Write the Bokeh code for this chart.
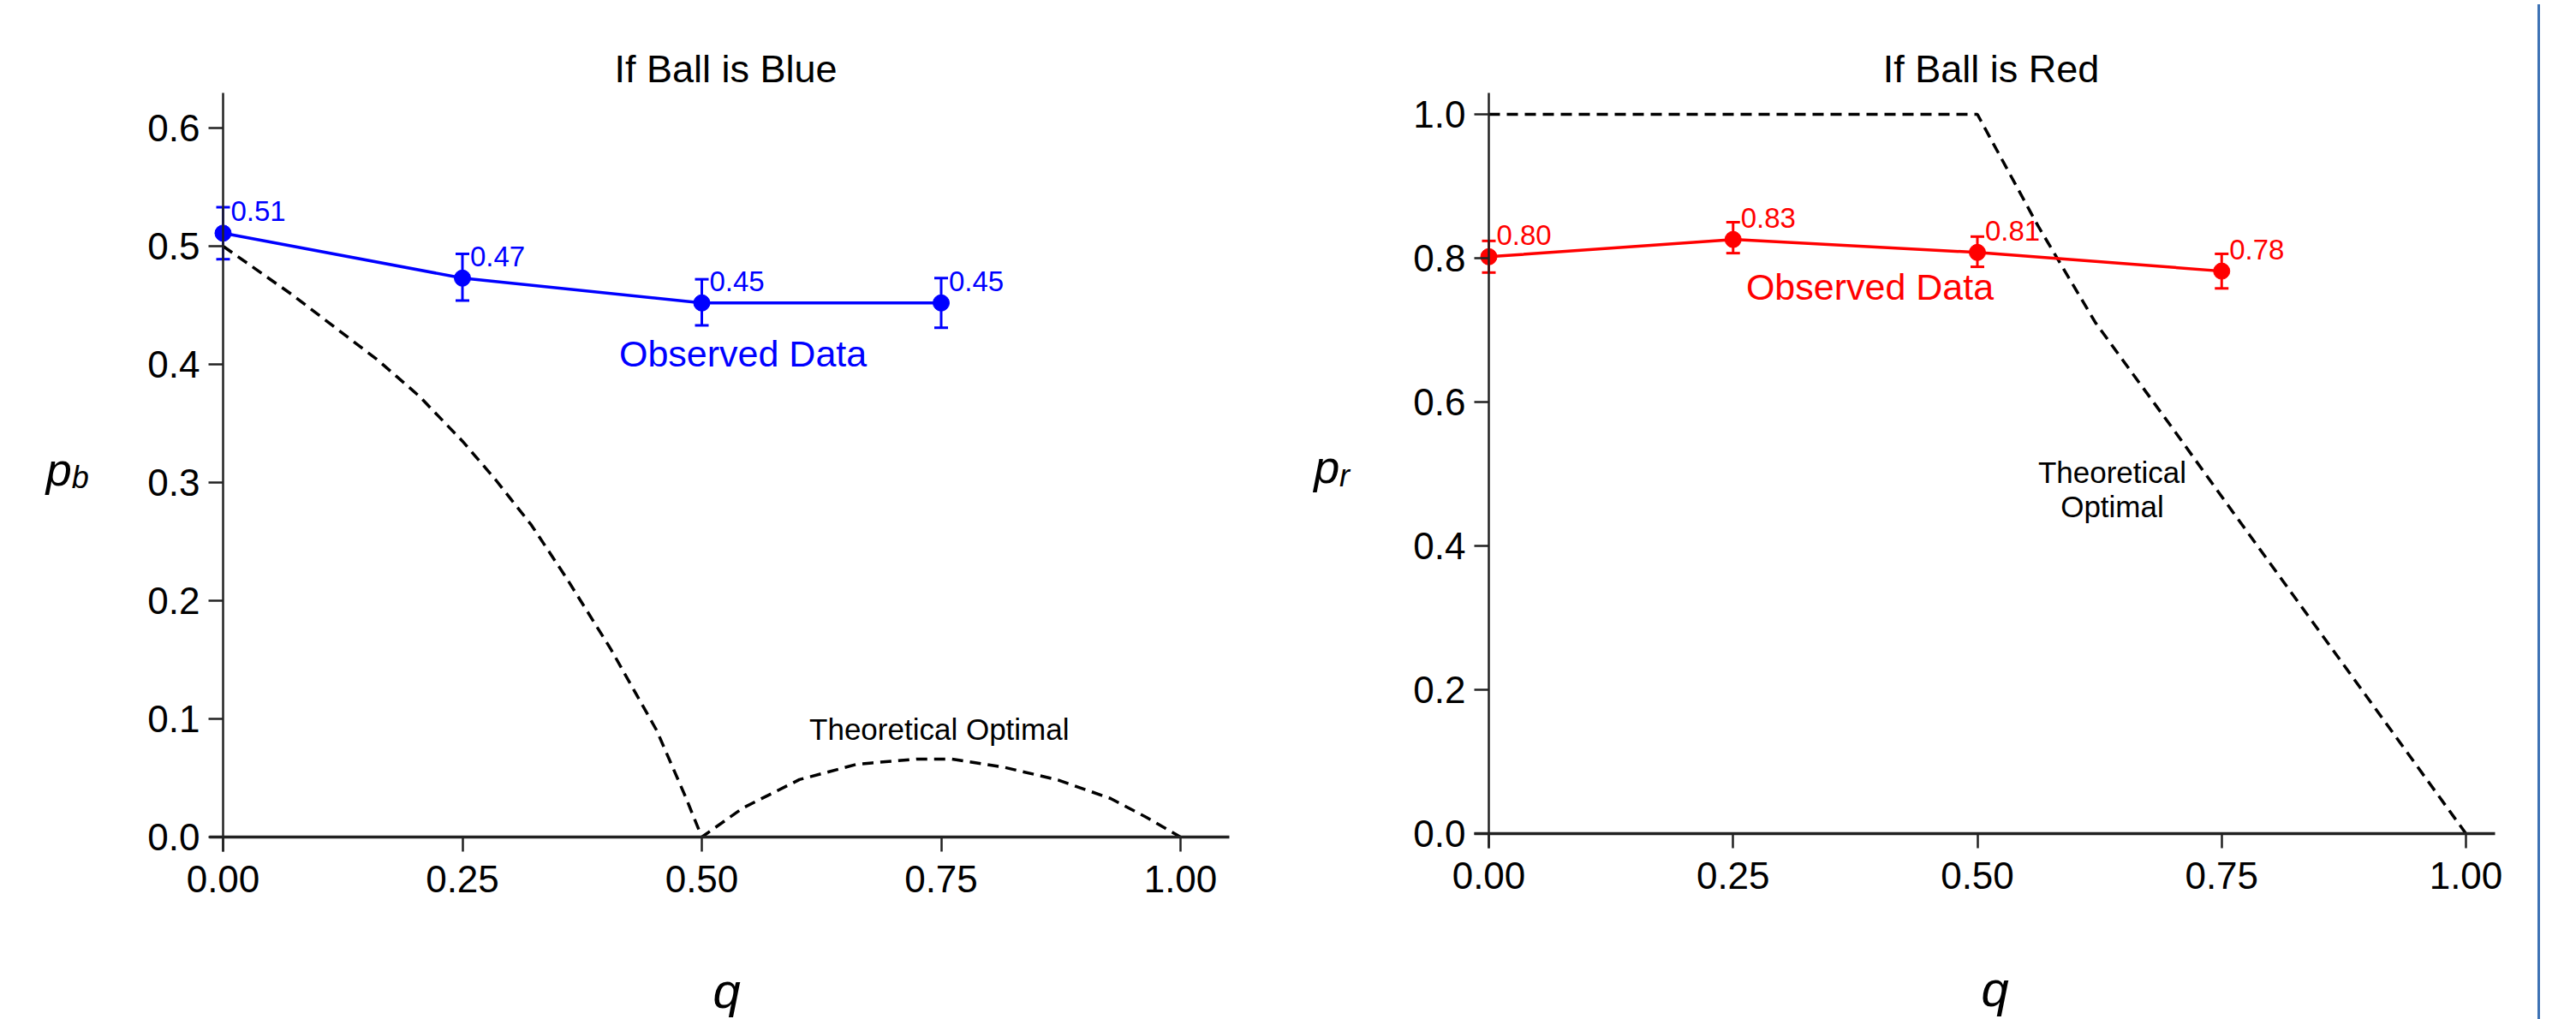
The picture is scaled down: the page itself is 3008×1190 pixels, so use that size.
from bokeh.plotting import figure
from bokeh.models import (Label, LabelSet, Whisker, ColumnDataSource, FixedTicker,
                          PrintfTickFormatter, TeeHead, Range1d, Div)
from bokeh.core.properties import value
from bokeh.layouts import row
from bokeh.embed import file_html
from bokeh.resources import INLINE

# ---------------- data ----------------
q_obs = [0.0, 0.25, 0.50, 0.75]

blue_mean = [0.511, 0.473, 0.452, 0.452]
blue_lower = [0.489, 0.454, 0.433, 0.431]
blue_upper = [0.533, 0.4935, 0.472, 0.473]

red_mean = [0.802, 0.826, 0.808, 0.782]
red_lower = [0.780, 0.807, 0.788, 0.758]
red_upper = [0.824, 0.850, 0.830, 0.806]

blue_theory_q = [0.0, 0.072, 0.161, 0.205, 0.25, 0.285, 0.322, 0.358, 0.405, 0.453, 0.483, 0.5,
                 0.543, 0.602, 0.662, 0.724, 0.761, 0.816, 0.872, 0.927, 0.964, 1.0]
blue_theory_p = [0.5, 0.459, 0.404, 0.373, 0.335, 0.302, 0.264, 0.220, 0.159, 0.090, 0.034, 0.0,
                 0.0246, 0.0486, 0.0616, 0.066, 0.066, 0.059, 0.0483, 0.0326, 0.0169, 0.0]

red_theory_q = [0.0, 0.5, 0.562, 0.621, 0.700, 0.761, 1.0]
red_theory_p = [1.0, 1.0, 0.845, 0.710, 0.563, 0.448, 0.0]

x_ticks = [0.0, 0.25, 0.5, 0.75, 1.0]
blue_y_ticks = [0.0, 0.1, 0.2, 0.3, 0.4, 0.5, 0.6]
red_y_ticks = [0.0, 0.2, 0.4, 0.6, 0.8, 1.0]

FONT = "Liberation Sans"
BLUE = "#0000ff"
RED = "#ff0000"
H = 1188


def make_panel(width, xr, yr, xbounds, ybounds, yticks):
    p = figure(width=width, height=H, output_backend="svg", toolbar_location=None,
               x_range=Range1d(*xr), y_range=Range1d(*yr),
               min_border_left=0, min_border_right=0,
               min_border_top=0, min_border_bottom=0)
    p.outline_line_color = None
    p.grid.visible = False
    p.background_fill_color = "white"
    p.border_fill_color = "white"
    for ax in (p.xaxis[0], p.yaxis[0]):
        ax.fixed_location = 0
        ax.axis_line_color = "#222222"
        ax.major_tick_in = 0
        ax.major_tick_out = 17
        ax.major_tick_line_width = 2.5
        ax.major_tick_line_color = "#222222"
        ax.minor_tick_line_color = None
        ax.major_label_text_font = FONT
        ax.major_label_text_font_size = "44px"
        ax.major_label_text_color = "black"
    p.xaxis.axis_line_width = 3.5
    p.yaxis.axis_line_width = 2.5
    p.xaxis.bounds = xbounds
    p.yaxis.bounds = ybounds
    p.xaxis.ticker = FixedTicker(ticks=x_ticks)
    p.xaxis.formatter = PrintfTickFormatter(format="%.2f")
    p.xaxis.major_label_standoff = 16
    p.yaxis.ticker = FixedTicker(ticks=yticks)
    p.yaxis.formatter = PrintfTickFormatter(format="%.1f")
    p.yaxis.major_label_standoff = 10
    return p


def add_observed(p, mean, lower, upper, color):
    src = ColumnDataSource(dict(x=q_obs, y=mean, lower=lower, upper=upper,
                                txt=["%.2f" % v for v in mean]))
    p.line("x", "y", source=src, line_color=color, line_width=3.5)
    p.add_layout(Whisker(base="x", lower="lower", upper="upper", source=src,
                         line_color=color, line_width=3,
                         upper_head=TeeHead(size=16, line_color=color, line_width=3),
                         lower_head=TeeHead(size=16, line_color=color, line_width=3)))
    p.scatter("x", "y", source=src, size=19, color=color)
    p.add_layout(LabelSet(x="x", y="y", text="txt", source=src, x_offset=9, y_offset=14,
                          text_font=value(FONT), text_font_size=value("33px"),
                          text_color=color, text_baseline="alphabetic", text_align="left"))


def lab(p, x, y, text, size, color="black", align="center", style="normal", lift=14):
    p.add_layout(Label(x=x, y=y, text=text, text_font=FONT, text_font_size=size,
                       text_color=color, text_align=align, text_baseline="alphabetic",
                       text_font_style=style, y_offset=lift))


# ---------------- left panel: blue ----------------
# page pixels: x=0 at 260, 1118 px/unit ; y=0 at 977, 1380 px/unit
p1 = make_panel(1500, (-260 / 1118, 1240 / 1118), ((977 - H) / 1380, 977 / 1380),
                (-0.0143, 1.051), (-0.0123, 0.6297), blue_y_ticks)
p1.line(blue_theory_q, blue_theory_p, line_color="black", line_width=3.5, line_dash="13 8")
add_observed(p1, blue_mean, blue_lower, blue_upper, BLUE)
lab(p1, 0.525, 0.640, "If Ball is Blue", "45px")
lab(p1, 0.543, 0.399, "Observed Data", "43px", color=BLUE)
lab(p1, 0.748, 0.081, "Theoretical Optimal", "35px")
lab(p1, -0.185, 0.304, "p", "54px", align="left", style="italic", lift=10)
lab(p1, -0.158, 0.297, "b", "36px", align="left", style="italic", lift=10)
lab(p1, 0.526, -0.140, "q", "58px", style="italic")

# ---------------- right panel: red ----------------
# page pixels: x=0 at 1738 (238 in panel), 1141 px/unit ; y=0 at 973, 840 px/unit
p2 = make_panel(1458, (-238 / 1141, 1220 / 1141), ((973 - H) / 840, 973 / 840),
                (-0.0149, 1.0298), (-0.0202, 1.0298), red_y_ticks)
p2.line(red_theory_q, red_theory_p, line_color="black", line_width=3.5, line_dash="13 8")
add_observed(p2, red_mean, red_lower, red_upper, RED)
lab(p2, 0.514, 1.046, "If Ball is Red", "45px")
lab(p2, 0.390, 0.744, "Observed Data", "43px", color=RED)
lab(p2, 0.638, 0.486, "Theoretical", "35px")
lab(p2, 0.638, 0.438, "Optimal", "35px")
lab(p2, -0.179, 0.498, "p", "54px", align="left", style="italic", lift=10)
lab(p2, -0.153, 0.486, "r", "36px", align="left", style="italic", lift=10)
lab(p2, 0.518, -0.232, "q", "58px", style="italic")

edge = Div(text="", width=3, height=H,
           styles={"background-color": "#3d72b4"})

layout = row(p1, p2, edge)
open("out.html", "w").write(file_html(layout, INLINE))
